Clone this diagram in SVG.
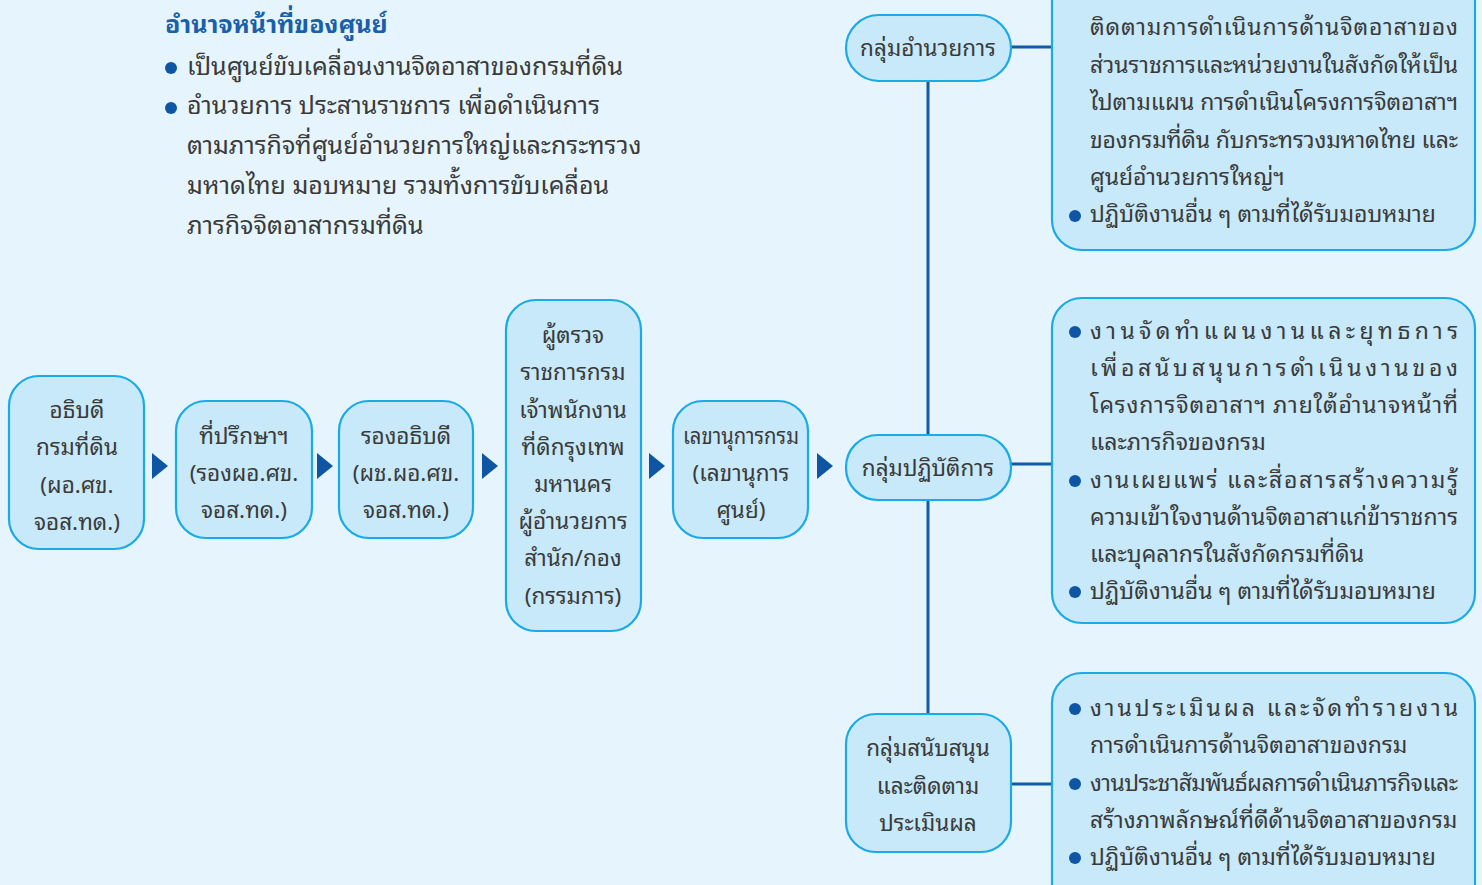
<svg xmlns="http://www.w3.org/2000/svg" width="1482" height="885" viewBox="0 0 1482 885">
<defs>
<style>
.bg{fill:#E6F5FD}
.node{fill:#C7E9F9;stroke:#1AAAE6;stroke-width:2.2}
.t{font-family:"Noto Sans Thai Looped","Noto Sans Thai","Noto Sans","DejaVu Sans",sans-serif;font-size:22.5px;fill:#3A3A3A}
.c{text-anchor:middle}
.h{font-size:25px;font-weight:bold;fill:#1A5FAA}
.big{font-size:25px}
.r{font-size:23px}
.line{stroke:#0E5BA7;stroke-width:3;fill:none}
.arr{fill:#0E56A4}
.dot{fill:#0E56A4}
</style>
</defs>
<rect class="bg" x="0" y="0" width="1482" height="885"/>

<g id="intro">
<text class="t h" x="165" y="33">อำนาจหน้าที่ของศูนย์</text>
<circle class="dot" cx="171" cy="68" r="6"/>
<text class="t big" x="187" y="75">เป็นศูนย์ขับเคลื่อนงานจิตอาสาของกรมที่ดิน</text>
<circle class="dot" cx="171" cy="108" r="6"/>
<text class="t big" x="187" y="114">อำนวยการ ประสานราชการ เพื่อดำเนินการ</text>
<text class="t big" x="187" y="154">ตามภารกิจที่ศูนย์อำนวยการใหญ่และกระทรวง</text>
<text class="t big" x="187" y="194">มหาดไทย มอบหมาย รวมทั้งการขับเคลื่อน</text>
<text class="t big" x="187" y="234">ภารกิจจิตอาสากรมที่ดิน</text>
</g>

<g id="connectors">
<polygon class="arr" points="152,453 168,466 152,479"/>
<polygon class="arr" points="317,453 333,466 317,479"/>
<polygon class="arr" points="482,453 498,466 482,479"/>
<polygon class="arr" points="649,453 665,466 649,479"/>
<polygon class="arr" points="817,453 833,466 817,479"/>
<line class="line" x1="928" y1="81" x2="928" y2="435"/>
<line class="line" x1="928" y1="500" x2="928" y2="714"/>
<line class="line" x1="1011" y1="47" x2="1052" y2="47"/>
<line class="line" x1="1011" y1="464" x2="1052" y2="464"/>
<line class="line" x1="1011" y1="784" x2="1052" y2="784"/>
</g>

<g id="n1">
<rect class="node" x="9" y="376" width="135" height="173" rx="30"/>
<text class="t c" x="77" y="418">อธิบดี</text>
<text class="t c" x="77" y="455">กรมที่ดิน</text>
<text class="t c" x="77" y="493">(ผอ.ศข.</text>
<text class="t c" x="77" y="530">จอส.ทด.)</text>
</g>
<g id="n2">
<rect class="node" x="176" y="401" width="136" height="137" rx="30"/>
<text class="t c" x="244" y="444">ที่ปรึกษาฯ</text>
<text class="t c" x="244" y="481">(รองผอ.ศข.</text>
<text class="t c" x="244" y="518">จอส.ทด.)</text>
</g>
<g id="n3">
<rect class="node" x="339" y="401" width="134" height="137" rx="30"/>
<text class="t c" x="406" y="444">รองอธิบดี</text>
<text class="t c" x="406" y="481">(ผช.ผอ.ศข.</text>
<text class="t c" x="406" y="518">จอส.ทด.)</text>
</g>
<g id="n4">
<rect class="node" x="506" y="300" width="135" height="331" rx="30"/>
<text class="t c" x="573" y="343">ผู้ตรวจ</text>
<text class="t c" x="573" y="380">ราชการกรม</text>
<text class="t c" x="573" y="418">เจ้าพนักงาน</text>
<text class="t c" x="573" y="455">ที่ดิกรุงเทพ</text>
<text class="t c" x="573" y="492">มหานคร</text>
<text class="t c" x="573" y="529">ผู้อำนวยการ</text>
<text class="t c" x="573" y="566">สำนัก/กอง</text>
<text class="t c" x="573" y="604">(กรรมการ)</text>
</g>
<g id="n5">
<rect class="node" x="673" y="401" width="135" height="137" rx="30"/>
<text class="t c" x="741" y="444" textLength="116" lengthAdjust="spacingAndGlyphs">เลขานุการกรม</text>
<text class="t c" x="741" y="481">(เลขานุการ</text>
<text class="t c" x="741" y="518">ศูนย์)</text>
</g>
<g id="n6">
<rect class="node" x="846" y="15" width="165" height="66" rx="33"/>
<text class="t c" x="928" y="56">กลุ่มอำนวยการ</text>
</g>
<g id="n7">
<rect class="node" x="846" y="435" width="165" height="65" rx="32"/>
<text class="t c" x="928" y="476">กลุ่มปฏิบัติการ</text>
</g>
<g id="n8">
<rect class="node" x="846" y="714" width="165" height="138" rx="30"/>
<text class="t c" x="928" y="756">กลุ่มสนับสนุน</text>
<text class="t c" x="928" y="794">และติดตาม</text>
<text class="t c" x="928" y="831">ประเมินผล</text>
</g>

<g id="box1">
<rect class="node" x="1052" y="-40" width="423" height="290" rx="30"/>
<text class="t r" x="1090" y="35" textLength="368" lengthAdjust="spacing">ติดตามการดำเนินการด้านจิตอาสาของ</text>
<text class="t r" x="1090" y="73" textLength="368" lengthAdjust="spacing">ส่วนราชการและหน่วยงานในสังกัดให้เป็น</text>
<text class="t r" x="1090" y="110" textLength="368" lengthAdjust="spacing">ไปตามแผน การดำเนินโครงการจิตอาสาฯ</text>
<text class="t r" x="1090" y="148" textLength="368" lengthAdjust="spacing">ของกรมที่ดิน กับกระทรวงมหาดไทย และ</text>
<text class="t r" x="1090" y="185">ศูนย์อำนวยการใหญ่ฯ</text>
<circle class="dot" cx="1075" cy="216" r="6"/>
<text class="t r" x="1090" y="222">ปฏิบัติงานอื่น ๆ ตามที่ได้รับมอบหมาย</text>
</g>

<g id="box2">
<rect class="node" x="1052" y="298" width="423" height="325" rx="30"/>
<circle class="dot" cx="1075" cy="332" r="6"/>
<text class="t r" x="1090" y="339" textLength="368" lengthAdjust="spacing">งานจัดทำแผนงานและยุทธการ</text>
<text class="t r" x="1090" y="376" textLength="368" lengthAdjust="spacing">เพื่อสนับสนุนการดำเนินงานของ</text>
<text class="t r" x="1090" y="413" textLength="368" lengthAdjust="spacing">โครงการจิตอาสาฯ ภายใต้อำนาจหน้าที่</text>
<text class="t r" x="1090" y="450">และภารกิจของกรม</text>
<circle class="dot" cx="1075" cy="481" r="6"/>
<text class="t r" x="1090" y="488" textLength="368" lengthAdjust="spacing">งานเผยแพร่ และสื่อสารสร้างความรู้</text>
<text class="t r" x="1090" y="525" textLength="368" lengthAdjust="spacing">ความเข้าใจงานด้านจิตอาสาแก่ข้าราชการ</text>
<text class="t r" x="1090" y="562">และบุคลากรในสังกัดกรมที่ดิน</text>
<circle class="dot" cx="1075" cy="592" r="6"/>
<text class="t r" x="1090" y="599">ปฏิบัติงานอื่น ๆ ตามที่ได้รับมอบหมาย</text>
</g>

<g id="box3">
<rect class="node" x="1052" y="673" width="423" height="250" rx="30"/>
<circle class="dot" cx="1075" cy="709" r="6"/>
<text class="t r" x="1090" y="716" textLength="368" lengthAdjust="spacing">งานประเมินผล และจัดทำรายงาน</text>
<text class="t r" x="1090" y="753">การดำเนินการด้านจิตอาสาของกรม</text>
<circle class="dot" cx="1075" cy="784" r="6"/>
<text class="t r" x="1090" y="791" textLength="368" lengthAdjust="spacing">งานประชาสัมพันธ์ผลการดำเนินภารกิจและ</text>
<text class="t r" x="1090" y="828">สร้างภาพลักษณ์ที่ดีด้านจิตอาสาของกรม</text>
<circle class="dot" cx="1075" cy="858" r="6"/>
<text class="t r" x="1090" y="865">ปฏิบัติงานอื่น ๆ ตามที่ได้รับมอบหมาย</text>
</g>
</svg>
